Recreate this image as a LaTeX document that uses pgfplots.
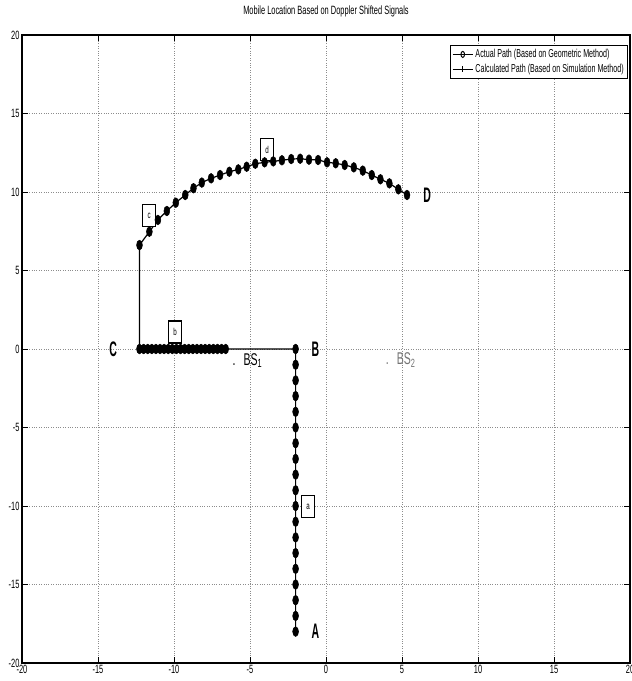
\documentclass[border=0pt]{standalone}
\usepackage{pgfplots}
\pgfplotsset{compat=1.18}
\usepackage{pgfplotstable}
\usepackage{fontspec}
\setmainfont{Liberation Sans}[FakeStretch=0.62]
\newfontfamily\narrowfont{Liberation Sans}[FakeStretch=0.5]

\pgfdeclareplotmark{vellipse}{%
  \pgfpathellipse{\pgfpointorigin}{\pgfpoint{0.6\pgfplotmarksize}{0pt}}{\pgfpoint{0pt}{\pgfplotmarksize}}%
  \pgfusepathqfillstroke}
\pgfdeclareplotmark{vellipseo}{%
  \pgfpathellipse{\pgfpointorigin}{\pgfpoint{0.6\pgfplotmarksize}{0pt}}{\pgfpoint{0pt}{\pgfplotmarksize}}%
  \pgfusepathqstroke}

\pgfplotstableread{
x y
-2 -18
-2 -17
-2 -16
-2 -15
-2 -14
-2 -13
-2 -12
-2 -11
-2 -10
-2 -9
-2 -8
-2 -7
-2 -6
-2 -5
-2 -4
-2 -3
-2 -2
-2 -1
-2 0
-6.60 0
-6.87 0
-7.14 0
-7.41 0
-7.68 0
-7.95 0
-8.22 0
-8.49 0
-8.76 0
-9.03 0
-9.30 0
-9.57 0
-9.84 0
-10.11 0
-10.38 0
-10.65 0
-10.92 0
-11.19 0
-11.46 0
-11.73 0
-12.00 0
-12.27 0
-12.27 6.62
-11.62 7.47
-11.06 8.22
-10.47 8.79
-9.88 9.32
-9.26 9.81
-8.72 10.24
-8.17 10.60
-7.56 10.87
-6.97 11.08
-6.36 11.29
-5.77 11.44
-5.22 11.61
-4.65 11.80
-4.04 11.89
-3.47 11.95
-2.90 12.02
-2.29 12.10
-1.70 12.12
-1.12 12.06
-0.52 12.04
0.07 11.89
0.64 11.83
1.23 11.72
1.83 11.57
2.42 11.36
3.01 11.08
3.58 10.81
4.17 10.55
4.76 10.17
5.33 9.81
}\pathdata

\begin{document}
\begin{tikzpicture}
\begin{axis}[
  scale only axis, width=608pt, height=628pt,
  xmin=-20, xmax=20, ymin=-20, ymax=20,
  xtick={-20,-15,...,20}, ytick={-20,-15,...,20},
  tick align=inside, major tick length=6pt,
  grid=major, grid style={dotted, black!45, line width=0.7pt},
  axis line style={line width=1.4pt},
  tick style={black, line width=0.9pt},
  ticklabel style={font=\fontsize{12}{12}\selectfont},
  xticklabel style={yshift=1pt},
  yticklabel style={xshift=1pt},
  /pgf/number format/assume math mode=true,
  title={Mobile Location Based on Doppler Shifted Signals},
  title style={font=\fontsize{12}{13}\selectfont, at={(rel axis cs:0.5,1)}, anchor=south, yshift=8pt},
  legend style={at={(rel axis cs:0.997,0.984)}, anchor=north east,
    font=\fontsize{11.5}{13}\selectfont, draw=black, line width=0.9pt,
    inner sep=2pt, row sep=1pt},
  legend cell align=left,
  legend image code/.code={\draw[mark repeat=2,mark phase=2,#1] plot coordinates {(0cm,0cm) (0.36cm,0cm) (0.72cm,0cm)};},
]
\addplot[black, line width=1.2pt, mark=vellipse, mark size=4.9pt,
  mark options={fill=black, solid, line width=0.5pt}, forget plot] table {\pathdata};

\addlegendimage{black, line width=1pt, mark=vellipseo, mark size=3pt, mark options={line width=1pt}}
\addlegendentry{Actual Path (Based on Geometric Method)}
\addlegendimage{black, line width=1pt, mark=+, mark size=3pt, mark options={line width=1pt}}
\addlegendentry{Calculated Path (Based on Simulation Method)}

\node[font=\narrowfont\bfseries\fontsize{21}{21}\selectfont] at (axis cs:-0.7,-18.0) {A};
\node[font=\narrowfont\bfseries\fontsize{21}{21}\selectfont] at (axis cs:-0.7,0) {B};
\node[font=\narrowfont\bfseries\fontsize{21}{21}\selectfont] at (axis cs:-14.0,0) {C};
\node[font=\narrowfont\bfseries\fontsize{21}{21}\selectfont] at (axis cs:6.66,9.8) {D};

\node[anchor=base west, inner sep=0pt, font=\fontsize{17}{17}\selectfont] at (axis cs:-6.16,-1.02) {.\hspace{8pt}BS\textsubscript{1}};
\node[anchor=base west, inner sep=0pt, text=black!55, font=\fontsize{17}{17}\selectfont] at (axis cs:3.93,-1.0) {.\hspace{8pt}BS\textsubscript{2}};

\tikzset{boxlab/.style={draw=black, line width=1.1pt, fill=white, minimum width=13pt, minimum height=22pt, inner sep=0pt, font=\fontsize{10}{10}\selectfont}}
\node[boxlab] at (axis cs:-1.18,-10.06) {a};
\node[boxlab] at (axis cs:-9.93,1.08) {b};
\node[boxlab] at (axis cs:-11.63,8.5) {c};
\node[boxlab] at (axis cs:-3.87,12.68) {d};
\end{axis}
\pgfresetboundingbox
\path ([shift={(-22pt,-18pt)}]current axis.south west) rectangle ([shift={(2pt,35pt)}]current axis.north east);
\end{tikzpicture}
\end{document}
